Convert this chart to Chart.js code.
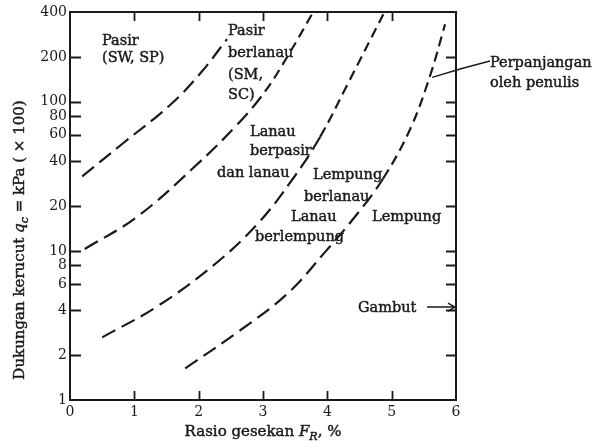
<!DOCTYPE html>
<html>
<head>
<meta charset="utf-8">
<script src="https://cdn.jsdelivr.net/npm/chart.js@4/dist/chart.umd.min.js"></script>
<style>
  html, body { margin: 0; padding: 0; background: #fff; }
  #wrap { width: 605px; height: 441px; position: relative; }
</style>
</head>
<body>
<div id="wrap"><canvas id="c" width="605" height="441"></canvas></div>
<script>
// ---- Data (x = friction ratio %, y = cone resistance) ----
const boundary1X = [0.19, 0.82, 1.56, 2.02, 2.44];
const boundary1Y = [31.6, 52.5, 95.5, 154, 263];

const boundary2X = [0.23, 1.04, 1.91, 2.6, 3.03, 3.42, 3.76];
const boundary2Y = [10.3, 16.9, 35.8, 70.3, 117, 215, 386];

const boundary3X = [0.5, 1.35, 2.22, 2.91, 3.47, 3.89, 4.31, 4.87];
const boundary3Y = [2.63, 4.23, 7.94, 15.1, 30.7, 58.4, 130, 386];

const boundary4X = [1.79, 2.6, 3.38, 3.94, 4.46, 4.87, 5.29, 5.6, 5.83];
const boundary4Y = [1.63, 2.84, 5.17, 9.55, 17.6, 30.7, 66, 151, 331];

// above these values the dashes of each boundary become shorter (as printed)
const shortDashFrom = [1000, 100, 40, 25];

const xTicks = [0, 1, 2, 3, 4, 5, 6];
const yTicks = [1, 2, 4, 6, 8, 10, 20, 40, 60, 80, 100, 200, 400];
const innerTickX = [1, 2, 3, 4, 5];
const innerTickY = [2, 4, 6, 8, 10, 20, 40, 60, 80, 100, 200];

// Annotation texts
const zoneLabels = [
  { lines: ["Pasir", "(SW, SP)"], x: [102, 102], y: [45, 62] },
  { lines: ["Pasir", "berlanau", "(SM,", "SC)"], x: [228, 228, 228, 228], y: [35, 57, 79, 99] },
  { lines: ["Lanau", "berpasir", "dan lanau"], x: [250, 250, 217], y: [136, 155, 177] },
  { lines: ["Lempung", "berlanau"], x: [313, 304], y: [179, 201] },
  { lines: ["Lanau", "berlempung"], x: [291, 255], y: [221, 241] },
  { lines: ["Lempung"], x: [372], y: [221] },
  { lines: ["Gambut"], x: [358], y: [312] },
  { lines: ["Perpanjangan", "oleh penulis"], x: [490, 490], y: [67, 87] }
];
const xTitle = ["Rasio gesekan ", "F", "R", ", %"];
const yTitle = ["Dukungan kerucut ", "q", "c", " = kPa ( \u00D7 100)"];

function pts(xs, ys) { return xs.map((x, i) => ({ x: x, y: ys[i] })); }

const INK = '#1a1a1a';
const SERIF = '"DejaVu Serif", "Liberation Serif", serif';
const LBL = '14.5px ' + SERIF;

function ds(xs, ys, k) {
  return {
    data: pts(xs, ys),
    borderColor: INK,
    borderWidth: 2.2,
    borderDash: [15, 7],
    pointRadius: 0,
    fill: false,
    tension: 0.4,
    segment: {
      borderDash: c => (c.p0.parsed.y >= shortDashFrom[k] ? [10, 6] : [15, 7])
    }
  };
}

const decor = {
  id: 'decor',
  afterDraw(chart) {
    const ctx = chart.ctx;
    const a = chart.chartArea;
    const xs = chart.scales.x, ys = chart.scales.y;
    ctx.save();
    ctx.strokeStyle = INK;
    ctx.fillStyle = INK;
    // frame
    ctx.lineWidth = 2;
    ctx.strokeRect(a.left, a.top, a.right - a.left, a.bottom - a.top);
    // inward ticks
    ctx.lineWidth = 1.8;
    ctx.beginPath();
    innerTickY.forEach(v => {
      const y = Math.round(ys.getPixelForValue(v)) + 0.5;
      ctx.moveTo(a.left, y); ctx.lineTo(a.left + 11, y);
      ctx.moveTo(a.right, y); ctx.lineTo(a.right - 10, y);
    });
    innerTickX.forEach(v => {
      const x = Math.round(xs.getPixelForValue(v)) + 0.5;
      ctx.moveTo(x, a.top); ctx.lineTo(x, a.top + 9);
      ctx.moveTo(x, a.bottom); ctx.lineTo(x, a.bottom - 9);
    });
    ctx.stroke();

    function txt(t, x, y) {
      ctx.fillText(t, x, y);
      ctx.lineWidth = 0.45;
      ctx.strokeText(t, x, y);
    }

    // zone labels
    ctx.font = LBL;
    ctx.textAlign = 'left';
    ctx.textBaseline = 'alphabetic';
    zoneLabels.forEach(z => {
      z.lines.forEach((t, i) => txt(t, z.x[i], z.y[i]));
    });

    // leader line for "Perpanjangan oleh penulis"
    ctx.lineWidth = 1.3;
    ctx.beginPath();
    ctx.moveTo(xs.getPixelForValue(5.63), ys.getPixelForValue(146));
    ctx.quadraticCurveTo(462, 68, 490, 61);
    ctx.stroke();

    // Gambut arrow
    const gy = ys.getPixelForValue(4.2);
    ctx.lineWidth = 1.4;
    ctx.beginPath();
    ctx.moveTo(427, gy); ctx.lineTo(a.right - 1, gy);
    ctx.moveTo(a.right - 8, gy - 4); ctx.lineTo(a.right - 1, gy); ctx.lineTo(a.right - 8, gy + 4);
    ctx.stroke();

    // axis titles with italic symbol and subscript
    function drawRich(parts, x0, y0) {
      let x = x0;
      ctx.font = '15px ' + SERIF; txt(parts[0], x, y0); x += ctx.measureText(parts[0]).width;
      ctx.font = 'italic 15px ' + SERIF; txt(parts[1], x, y0); x += ctx.measureText(parts[1]).width;
      ctx.font = 'italic 11px ' + SERIF; txt(parts[2], x, y0 + 4); x += ctx.measureText(parts[2]).width;
      ctx.font = '15px ' + SERIF; txt(parts[3], x, y0);
    }
    function richWidth(parts) {
      let w = 0;
      ctx.font = '15px ' + SERIF; w += ctx.measureText(parts[0]).width + ctx.measureText(parts[3]).width;
      ctx.font = 'italic 15px ' + SERIF; w += ctx.measureText(parts[1]).width;
      ctx.font = 'italic 11px ' + SERIF; w += ctx.measureText(parts[2]).width;
      return w;
    }
    const wx = richWidth(xTitle);
    drawRich(xTitle, 263 - wx / 2, 436);

    const wy = richWidth(yTitle);
    ctx.translate(24, 240);
    ctx.rotate(-Math.PI / 2);
    drawRich(yTitle, -wy / 2, 0);
    ctx.restore();
  }
};

new Chart(document.getElementById('c'), {
  type: 'line',
  data: {
    datasets: [
      ds(boundary1X, boundary1Y, 0),
      ds(boundary2X, boundary2Y, 1),
      ds(boundary3X, boundary3Y, 2),
      ds(boundary4X, boundary4Y, 3)
    ]
  },
  options: {
    responsive: false,
    animation: false,
    layout: { padding: { top: 12, right: 149, left: 0, bottom: 0 } },
    plugins: { legend: { display: false }, tooltip: { enabled: false } },
    scales: {
      x: {
        type: 'linear', min: 0, max: 6,
        grid: { display: false, drawTicks: false },
        border: { display: false },
        afterBuildTicks: s => { s.ticks = xTicks.map(v => ({ value: v })); },
        afterFit: s => { s.height = 41; },
        ticks: { color: INK, padding: 4, font: { family: SERIF, size: 14 }, maxRotation: 0, autoSkip: false }
      },
      y: {
        type: 'logarithmic', min: 1, max: 400,
        grid: { display: false, drawTicks: false },
        border: { display: false },
        afterBuildTicks: s => { s.ticks = yTicks.map(v => ({ value: v })); },
        afterFit: s => { s.width = 70; },
        ticks: { color: INK, padding: 3, font: { family: SERIF, size: 14 }, autoSkip: false,
                 callback: v => String(v) }
      }
    }
  },
  plugins: [decor]
});
</script>
</body>
</html>
